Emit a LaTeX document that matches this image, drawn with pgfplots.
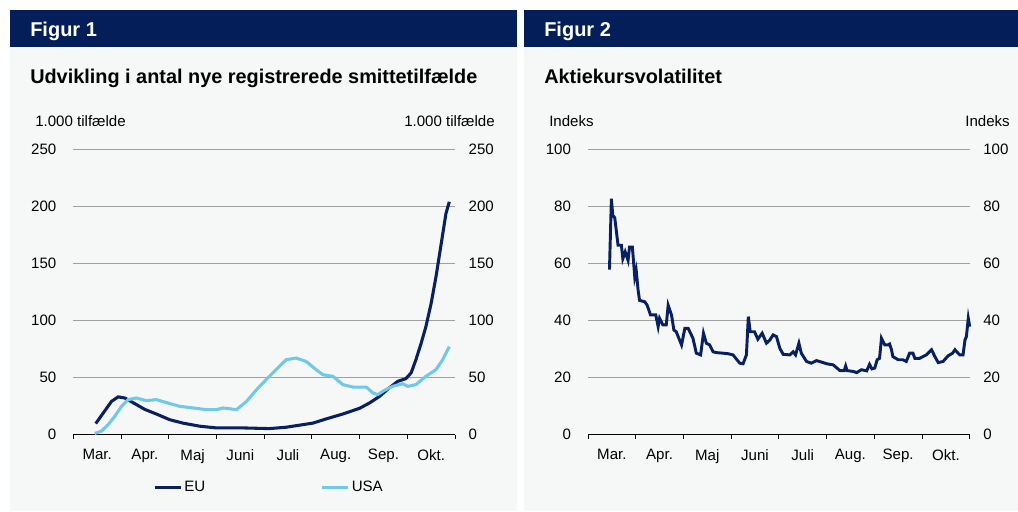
\documentclass[border=0pt]{standalone}
\usepackage{pgfplots}
\pgfplotsset{compat=1.18}
\usepackage{fontspec}
\setmainfont{Liberation Sans}

\definecolor{navy}{RGB}{4,30,90}
\definecolor{eucol}{RGB}{8,32,98}
\definecolor{usacol}{RGB}{112,200,234}
\definecolor{panelbg}{RGB}{246,248,248}
\definecolor{gridgrey}{RGB}{160,160,160}

% x = months since 1 March
\pgfplotstableread{
x y
0.47 9.6
0.63 19
0.80 29
0.94 33
1.08 32
1.26 27.7
1.50 22
1.74 18
2.02 13
2.30 10
2.65 7.3
3.00 5.8
3.56 5.8
4.11 5.2
4.46 6.4
4.74 8.2
5.02 10
5.30 13.7
5.65 18
6.00 23
6.21 27.7
6.42 33.5
6.62 40.8
6.80 46.6
6.97 49
7.08 54
7.18 65.5
7.29 80
7.39 94.6
7.50 115
7.60 138
7.71 167
7.81 193.6
7.88 203.8
}\eu

\pgfplotstableread{
x y
0.45 1
0.59 3
0.73 8.7
0.87 16
1.01 24.7
1.15 30.6
1.32 32
1.53 29.7
1.74 30.6
1.95 28
2.23 24.7
2.51 23.3
2.79 21.8
3.00 21.8
3.14 23.3
3.42 21.8
3.63 29
3.84 39.3
4.04 48
4.25 56.8
4.46 65.5
4.67 67
4.88 64
5.09 56.8
5.23 52.4
5.44 51
5.65 43.7
5.86 41.6
6.14 41.6
6.28 36.4
6.38 35
6.52 38.7
6.69 42.2
6.90 44.5
7.01 42.2
7.18 43.7
7.39 51
7.60 56.8
7.74 65.5
7.88 77
}\usa

\pgfplotstableread{
x y
0.45 57.8
0.49 82.6
0.52 76.7
0.56 76
0.63 66.3
0.70 66.3
0.73 61.6
0.78 64
0.84 61
0.87 65.7
0.93 65.7
0.98 55.2
1.01 57.5
1.05 50.6
1.08 47
1.19 46.5
1.24 45.3
1.31 41.9
1.42 41.9
1.47 37.8
1.50 40.7
1.57 38.4
1.64 38.4
1.68 45.3
1.75 41.9
1.80 36.6
1.85 36
1.96 31.4
2.03 37.2
2.10 37.2
2.20 33.7
2.27 28.5
2.36 27.9
2.42 35.5
2.48 32
2.55 31.4
2.62 29
2.69 28.7
2.83 28.5
2.94 28.3
3.04 27.9
3.18 25
3.25 24.8
3.32 27.9
3.36 41.3
3.40 36
3.49 36
3.56 33.4
3.65 35.5
3.74 32
3.81 33.1
3.88 34.9
3.95 34.3
4.02 30.2
4.09 28.1
4.23 27.9
4.30 29
4.35 27.9
4.42 32
4.47 28.5
4.58 25.6
4.68 25
4.79 25.9
4.93 25.2
5.00 24.8
5.14 24.4
5.28 22.4
5.37 22.4
5.40 24
5.43 22.4
5.56 22.1
5.63 21.7
5.73 22.7
5.84 22.3
5.90 24.6
5.95 23
6.01 23.3
6.06 26.2
6.11 26.7
6.15 33.7
6.22 31.4
6.29 31.4
6.32 31.7
6.36 29.7
6.39 27.3
6.50 26.2
6.60 26.2
6.67 25.6
6.74 28.5
6.81 28.5
6.85 26.7
6.95 26.7
7.09 27.9
7.20 29.7
7.27 27.3
7.34 25.2
7.44 25.6
7.55 27.6
7.64 28.5
7.69 29.7
7.79 27.9
7.86 27.9
7.90 33.1
7.93 34.3
7.97 40.7
8.00 37.8
}\vol

\pgfplotsset{
  panel/.style={
    scale only axis,
    width=286.3pt, height=214.1pt,
    anchor=south west,
    xmin=0, xmax=8,
    ymin=0,
    axis x line*=bottom,
    axis y line*=left,
    y axis line style={draw=none},
    x axis line style={black, line width=0.8pt},
    xtick={0.5,1.5,...,7.5},
    xticklabels={Mar., Apr., Maj, Juni, Juli, Aug., Sep., Okt.},
    major x tick style={draw=none},
    minor xtick={0,1,...,8},
    minor x tick style={black, line width=0.6pt},
    minor tick length=3pt,
    tick align=outside,
    ytick style={draw=none},
    ymajorgrids,
    grid style={gridgrey, line width=0.6pt},
    tick label style={font=\fontsize{11.3}{13}\selectfont},
    /pgf/number format/assume math mode=true,
    xticklabel style={inner ysep=0pt, yshift=-6.5pt},
    yticklabel style={inner xsep=0pt, xshift=-8.3pt},
    clip=false,
  },
  rightlab/.style={
    scale only axis,
    width=286.3pt, height=214.1pt,
    anchor=south west,
    xmin=0, xmax=8, ymin=0,
    hide x axis,
    axis y line*=right,
    y axis line style={draw=none},
    ytick style={draw=none},
    tick label style={font=\fontsize{11.3}{13}\selectfont},
    /pgf/number format/assume math mode=true,
    yticklabel style={inner xsep=0pt, xshift=10pt},
  },
}

\begin{document}
\begin{tikzpicture}
\begin{scope}[x=0.75pt, y=-0.75pt]
  \fill[white] (0,0) rectangle (1018,511);
  % panels
  \fill[panelbg] (10,47) rectangle (517,510.5);
  \fill[panelbg] (524,47) rectangle (1018,510.5);
  \fill[navy] (10,10) rectangle (517,47);
  \fill[navy] (524,10) rectangle (1018,47);
  \node[anchor=base west, inner sep=0pt, text=white, font=\fontsize{15}{18}\selectfont\bfseries] at (30,36) {Figur 1};
  \node[anchor=base west, inner sep=0pt, text=white, font=\fontsize{15}{18}\selectfont\bfseries] at (544,36) {Figur 2};
  \node[anchor=base west, inner sep=0pt, font=\fontsize{14.9}{18}\selectfont\bfseries] at (30,83.5) {Udvikling i antal nye registrerede smittetilfælde};
  \node[anchor=base west, inner sep=0pt, font=\fontsize{14.9}{18}\selectfont\bfseries] at (544,83.5) {Aktiekursvolatilitet};
  \node[anchor=base west, inner sep=0pt, font=\fontsize{11.3}{13}\selectfont] at (35,126) {1.000 tilfælde};
  \node[anchor=base east, inner sep=0pt, font=\fontsize{11.3}{13}\selectfont] at (495,126) {1.000 tilfælde};
  \node[anchor=base west, inner sep=0pt, font=\fontsize{11.3}{13}\selectfont] at (549,126) {Indeks};
  \node[anchor=base east, inner sep=0pt, font=\fontsize{11.3}{13}\selectfont] at (1010,126) {Indeks};
\end{scope}

% Figur 1
\begin{axis}[panel, at={(54.98pt,-325.9pt)}, ymax=250, ytick={0,50,...,250},
  legend columns=2,
  legend style={draw=none, fill=none, inner sep=0pt,
    at={(0.209,-0.184)}, anchor=west,
    font=\fontsize{11.3}{13}\selectfont,
    nodes={inner xsep=1.5pt},
    /tikz/every even column/.append style={column sep=85pt}},
  legend image code/.code={\draw[#1] (0pt,0pt) -- (19.5pt,0pt);},
]
  \addplot[eucol, line width=2.3pt] table[x=x, y=y] {\eu};
  \addplot[usacol, line width=2.3pt] table[x=x, y=y] {\usa};
  \legend{EU, USA}
\end{axis}
\begin{axis}[rightlab, at={(54.98pt,-325.9pt)}, ymax=250, ytick={0,50,...,250}]
  \addplot[draw=none] coordinates {(0,0)};
\end{axis}

% Figur 2
\begin{axis}[panel, at={(441pt,-325.9pt)}, ymax=100, ytick={0,20,...,100}]
  \addplot[eucol, line width=2.2pt] table[x=x, y=y] {\vol};
\end{axis}
\begin{axis}[rightlab, at={(441pt,-325.9pt)}, ymax=100, ytick={0,20,...,100}]
  \addplot[draw=none] coordinates {(0,0)};
\end{axis}
\end{tikzpicture}
\end{document}
